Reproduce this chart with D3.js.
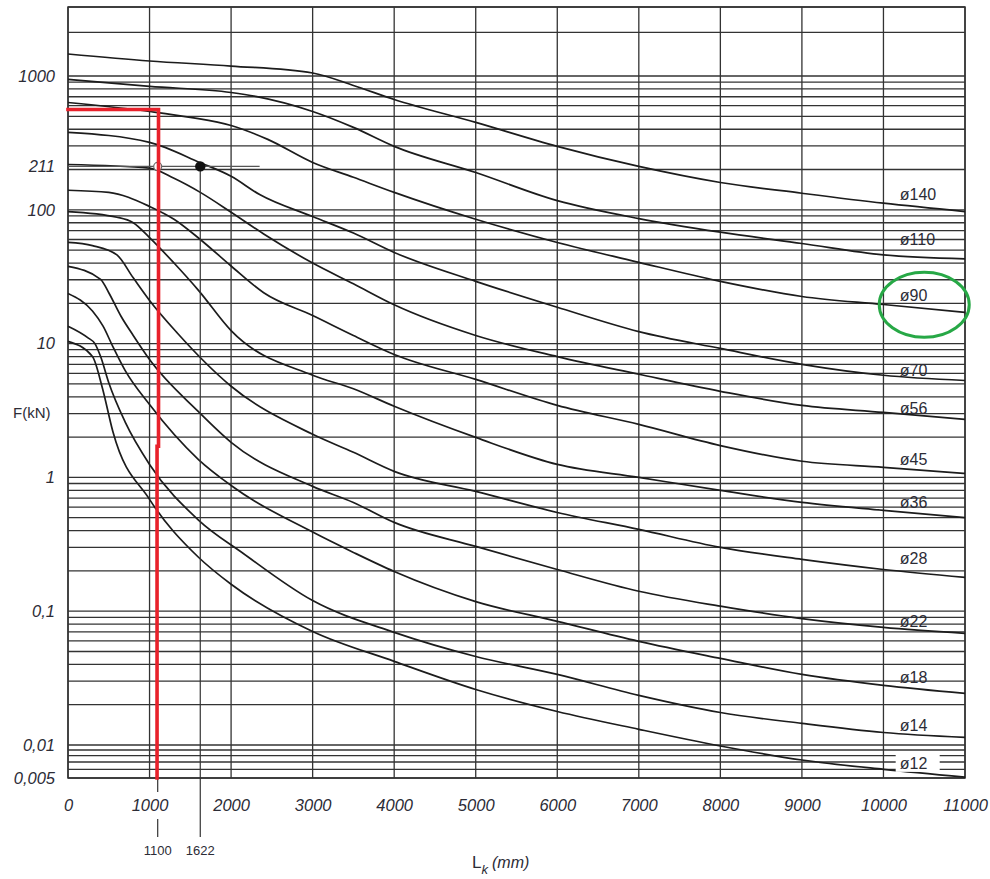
<!DOCTYPE html>
<html><head><meta charset="utf-8">
<script src="https://cdn.jsdelivr.net/npm/d3@7"></script>
<style>
body{margin:0;background:#fff;}
svg text{font-family:"Liberation Sans",Arial,Helvetica,sans-serif;}
</style></head><body>
<svg id="c" width="990" height="879"></svg>
<script>
// ---------- data ----------
const xTicks = [0,1000,2000,3000,4000,5000,6000,7000,8000,9000,10000,11000];
const yTicks = [0.005,0.01,0.1,1,10,100,211,1000];
const yTickLabels = ["0,005","0,01","0,1","1","10","100","211","1000"];
const seriesNames = ["ø140","ø110","ø90","ø70","ø56","ø45","ø36","ø28","ø22","ø18","ø14","ø12"];

const d140 = [[0,1420],[1000,1270],[2000,1172],[3000,1049],[3500,850],[4000,668],[5000,450],[6000,298],[7000,211],[8000,160],[9000,133],[10000,112],[11000,97]];
const d110 = [[0,944],[1000,836],[2000,753],[2300,704],[3000,543],[3500,413],[4000,298],[5000,190],[6000,117],[7000,86],[8000,68],[9000,56],[10000,46],[11000,43]];
const d90  = [[0,634],[1000,543],[1500,491],[2000,427],[2450,336],[3000,226],[3500,175],[4000,135],[5000,85],[6000,57],[7000,40.5],[8000,29.2],[9000,22.5],[10000,19.6],[11000,17.1]];
const d70  = [[0,379],[1000,319],[1622,225],[2000,178],[2350,130],[3000,89],[3500,67],[4000,48],[5000,29.2],[6000,18.7],[7000,12.3],[8000,9.2],[9000,7.0],[10000,5.8],[11000,5.3]];
const d56  = [[0,218],[1000,205],[1300,172],[1622,135],[2000,96],[2400,66],[3000,40],[3500,28],[4000,19.5],[5000,11.5],[6000,8.0],[7000,5.9],[8000,4.4],[9000,3.45],[10000,3.06],[11000,2.71]];
const d45  = [[0,140],[500,135],[1000,106],[1300,85],[1622,60],[2000,38],[2400,24],[3000,16.2],[3500,11.5],[4000,8.3],[5000,5.4],[6000,3.45],[7000,2.49],[8000,1.73],[9000,1.32],[10000,1.19],[11000,1.07]];
const d36  = [[0,97],[600,88],[800,80],[1000,62],[1300,40],[1600,25],[2000,12.5],[3000,5.8],[3500,4.6],[4000,3.4],[5000,1.99],[6000,1.25],[7000,1.0],[8000,0.80],[9000,0.65],[10000,0.567],[11000,0.50]];
const d28  = [[0,57],[300,54],[600,46],[800,31],[1000,21],[1340,12],[2000,4.8],[3000,2.1],[3500,1.54],[4000,1.11],[5000,0.786],[6000,0.547],[7000,0.409],[8000,0.30],[9000,0.244],[10000,0.205],[11000,0.179]];
const d22  = [[0,37.8],[400,30.2],[500,24],[650,16],[800,11.5],[1000,7.6],[1600,3.1],[2000,1.83],[3000,0.857],[3500,0.65],[4000,0.461],[5000,0.305],[6000,0.205],[7000,0.141],[8000,0.109],[9000,0.088],[10000,0.0757],[11000,0.0683]];
const d18  = [[0,23.7],[300,17.5],[430,13.5],[550,9.5],[700,6.3],[1000,3.5],[1600,1.36],[2000,0.87],[3000,0.39],[3500,0.275],[4000,0.198],[5000,0.118],[6000,0.084],[7000,0.0595],[8000,0.0444],[9000,0.0337],[10000,0.0279],[11000,0.0243]];
const d14  = [[0,13.5],[250,11.0],[330,10.0],[400,8.0],[500,5.1],[700,2.6],[1000,1.25],[1600,0.48],[2150,0.27],[3000,0.12],[4000,0.0695],[5000,0.0459],[6000,0.0337],[7000,0.0235],[8000,0.0175],[9000,0.0145],[10000,0.0124],[11000,0.0114]];
const d12  = [[0,10.4],[300,8.0],[420,4.7],[550,2.2],[1000,0.685],[1600,0.253],[2000,0.159],[3000,0.0706],[4000,0.0422],[5000,0.026],[6000,0.0178],[7000,0.0131],[8000,0.0098],[9000,0.0073],[10000,0.006],[11000,0.0051]];
const seriesData = [d140,d110,d90,d70,d56,d45,d36,d28,d22,d18,d14,d12];

// worked example
const exampleF = 211;
const exampleL = [1100, 1622];
const exampleGuideEnd = 2350;
const redPath = [[0,562],[1110,562],[1110,1.71],[1092,1.71],[1092,0.005]];
const highlight = {L:10500, F:19.5};

// ---------- layout ----------
const svg = d3.select("#c");
const X0=68, X1=965, Y0=7, Y1=778;
const x = d3.scaleLinear().domain([0,11000]).range([X0,X1]);
const y = d3.scaleLog().domain([0.005,0.01,1000,3000]).range([Y1,745,76,Y0]);

const gridCol="#333", txtCol="#2c2c36";

// horizontal grid (log minor lines)
const hGrid=[];
for(let e=-3;e<=3;e++) for(let k=1;k<=9;k++){
  const v=+(k*Math.pow(10,e)).toPrecision(3);
  if(v>=0.005 && v<=3000) hGrid.push(v);
}
const g = svg.append("g");
g.selectAll("line.h").data(hGrid).join("line")
  .attr("x1",X0).attr("x2",X1).attr("y1",d=>y(d)).attr("y2",d=>y(d))
  .attr("stroke",gridCol).attr("stroke-width",1.3);
g.selectAll("line.v").data(xTicks).join("line")
  .attr("x1",d=>x(d)).attr("x2",d=>x(d)).attr("y1",Y0).attr("y2",Y1)
  .attr("stroke",gridCol).attr("stroke-width",1.3);
g.append("rect").attr("x",X0).attr("y",Y0).attr("width",X1-X0).attr("height",Y1-Y0)
  .attr("fill","none").attr("stroke",gridCol).attr("stroke-width",1.5);

const line = d3.line().x(d=>x(d[0])).y(d=>y(d[1])).curve(d3.curveMonotoneX);

// curves
svg.append("g").selectAll("path").data(seriesData).join("path")
  .attr("d",line).attr("fill","none").attr("stroke","#1c1c1c").attr("stroke-width",1.7);

// labels
const labelDy=[-5,-11,-5,0,0,-4,-4,-7,-2,-4,-2,-2];
function yAt(data,L){
  for(let i=1;i<data.length;i++){
    if(data[i][0]>=L){
      const a=data[i-1],b=data[i], t=(L-a[0])/(b[0]-a[0]);
      return y(Math.exp(Math.log(a[1])+t*(Math.log(b[1])-Math.log(a[1]))));
    }
  }
  return y(data[data.length-1][1]);
}
const lab = svg.append("g");
seriesData.forEach((d,i)=>{
  const ly = yAt(d,10200)+labelDy[i];
  if(i===11){
    lab.append("rect").attr("x",x(10150)).attr("y",ly-15).attr("width",44).attr("height",18).attr("fill","#fff");
  }
  lab.append("text").attr("x",x(10200)).attr("y",ly)
    .attr("font-size",16).attr("fill",txtCol).text(seriesNames[i]);
});

// example guide line at 211
svg.append("line").attr("x1",x(0)).attr("x2",x(exampleGuideEnd))
  .attr("y1",y(exampleF)).attr("y2",y(exampleF)).attr("stroke","#555").attr("stroke-width",1.3);
// 1622 drop line
svg.append("line").attr("x1",x(exampleL[1])).attr("x2",x(exampleL[1]))
  .attr("y1",y(exampleF)).attr("y2",Y1+59).attr("stroke","#333").attr("stroke-width",1.2);
// 1100 tick below axis
svg.append("line").attr("x1",x(exampleL[0])).attr("x2",x(exampleL[0]))
  .attr("y1",Y1).attr("y2",Y1+14).attr("stroke","#333").attr("stroke-width",1.2);
svg.append("line").attr("x1",x(exampleL[0])).attr("x2",x(exampleL[0]))
  .attr("y1",Y1+41).attr("y2",Y1+59).attr("stroke","#333").attr("stroke-width",1.2);
// open circle
svg.append("circle").attr("cx",x(exampleL[0])).attr("cy",y(exampleF)).attr("r",4)
  .attr("fill","#fff").attr("stroke","#666").attr("stroke-width",1.2);
// red path
svg.append("path").attr("d",d3.line().x(d=>x(d[0])).y(d=>y(d[1])).curve(d3.curveLinear)(redPath))
  .attr("fill","none").attr("stroke","#e8212b").attr("stroke-width",3.6).attr("stroke-linecap","square");
// filled dot
svg.append("circle").attr("cx",x(exampleL[1])).attr("cy",y(exampleF)).attr("r",5.2).attr("fill","#111");

// highlight ellipse
svg.append("ellipse").attr("cx",x(highlight.L)).attr("cy",y(highlight.F)).attr("rx",45).attr("ry",32.5)
  .attr("fill","none").attr("stroke","#27a846").attr("stroke-width",3);

// axes
const ya = svg.append("g").attr("transform",`translate(${X0},0)`)
  .call(d3.axisLeft(y).tickValues(yTicks).tickFormat((d,i)=>yTickLabels[i]).tickSize(0).tickPadding(13));
ya.select(".domain").remove();
ya.selectAll("text").attr("font-size",16.5).attr("font-style","italic").attr("fill",txtCol)
  .attr("font-family","'Liberation Sans',Arial,sans-serif");

const xa = svg.append("g").attr("transform",`translate(0,${Y1})`)
  .call(d3.axisBottom(x).tickValues(xTicks).tickFormat(d=>String(d)).tickSize(0).tickPadding(21));
xa.select(".domain").remove();
xa.selectAll("text").attr("font-size",16.5).attr("font-style","italic").attr("fill",txtCol)
  .attr("font-family","'Liberation Sans',Arial,sans-serif");

// example tick labels
svg.selectAll("text.ex").data(exampleL).join("text").attr("class","ex")
  .attr("x",d=>x(d)).attr("y",Y1+77).attr("text-anchor","middle")
  .attr("font-size",13).attr("fill",txtCol).text(d=>String(d));

// axis titles
svg.append("text").attr("x",13).attr("y",418).attr("font-size",15).attr("fill",txtCol).text("F(kN)");
const xt = svg.append("text").attr("x",472).attr("y",868).attr("font-size",17).attr("fill",txtCol);
xt.append("tspan").text("L");
xt.append("tspan").attr("font-size",13).attr("font-style","italic").attr("dy",6).text("k");
xt.append("tspan").attr("font-size",16).attr("font-style","italic").attr("dy",-6).attr("dx",4).text("(mm)");
</script>
</body></html>
